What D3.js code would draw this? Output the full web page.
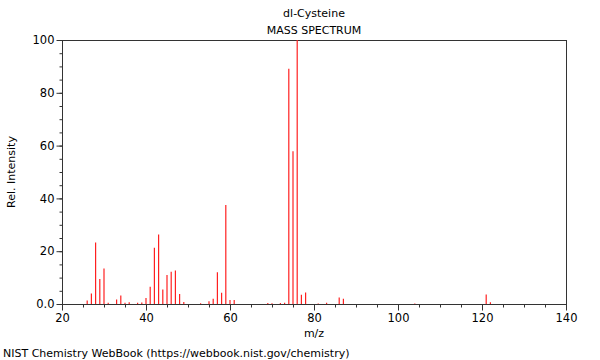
<!DOCTYPE html>
<html>
<head>
<meta charset="utf-8">
<style type="text/css">
body { margin: 0; background: #fff; }
text { font-family: 'DejaVu Sans'; }
</style>
</head>
<body>
<script src="https://d3js.org/d3.v7.min.js"></script>
<script type="text/javascript">

// peaks
const mz = [26, 27, 28, 29, 30, 31, 33, 34, 35, 36, 38, 39, 40, 41, 42, 43, 44, 45, 46, 47, 48, 49,
            53, 55, 56, 57, 58, 59, 60, 61, 69, 70, 72, 73, 74, 75, 76, 77, 78, 81, 83, 86, 87,
            104, 121, 122];
const intensity = [1.3, 4, 23.3, 9.5, 13.4, 0.5, 1.7, 3.2, 0.5, 0.7, 0.5, 0.6, 2.3, 6.5, 21.3, 26.3, 5.5, 11, 12.2, 12.7, 3.8, 0.8,
                   0.3, 1, 2, 12, 4.3, 37.5, 1.5, 1.5, 0.4, 0.3, 0.4, 0.5, 89.1, 57.9, 100, 3.5, 4.4, 0.2, 0.5, 2.5, 2,
                   0.2, 3.6, 0.7];
const xTicks = [20, 40, 60, 80, 100, 120, 140];
const yTicks = [0, 20, 40, 60, 80, 100];

const peaks = mz.map((m, i) => ({ mz: m, v: intensity[i] }));

var margin = {top: 40, right: 34, bottom: 56, left: 62},
    width = 600 - margin.left - margin.right,
    height = 360 - margin.top - margin.bottom;

var svg = d3.select("body").append("svg")
    .attr("width", 600)
    .attr("height", 360);

var g = svg.append("g")
    .attr("transform", "translate(" + margin.left + "," + margin.top + ")");

var x = d3.scaleLinear().domain([20, 140]).range([0, width]);
var y = d3.scaleLinear().domain([0, 100]).range([height, 0]);

// frame
g.append("rect")
    .attr("x", 0.5).attr("y", 0.5)
    .attr("width", width).attr("height", height)
    .attr("fill", "none")
    .attr("stroke", "#333");

// minor ticks
g.append("g")
    .attr("transform", "translate(0," + (height + 0.5) + ")")
    .call(d3.axisBottom(x).tickValues(d3.range(20, 141, 5)).tickSize(3).tickFormat(""))
    .call(s => s.select(".domain").remove());
g.append("g")
    .attr("transform", "translate(0.5,0)")
    .call(d3.axisLeft(y).tickValues(d3.range(0, 101, 5)).tickSize(3).tickFormat(""))
    .call(s => s.select(".domain").remove());

// major ticks
var xAxis = g.append("g")
    .attr("transform", "translate(0," + (height + 0.5) + ")")
    .call(d3.axisBottom(x).tickValues(xTicks).tickSize(6).tickPadding(3));
xAxis.select(".domain").remove();

var yAxis = g.append("g")
    .attr("transform", "translate(0.5,0)")
    .call(d3.axisLeft(y).tickValues(yTicks).tickSize(6).tickPadding(2)
      .tickFormat(d => d === 0 ? "0.0" : d));
yAxis.select(".domain").remove();

g.selectAll(".tick line").attr("stroke", "#333");
g.selectAll(".tick text")
    .attr("font-family", "DejaVu Sans")
    .attr("font-size", "11.5px")
    .attr("fill", "#000");

// peaks
g.selectAll(".peak")
    .data(peaks)
  .enter().append("line")
    .attr("class", "peak")
    .attr("x1", d => x(d.mz))
    .attr("x2", d => x(d.mz))
    .attr("y1", height)
    .attr("y2", d => y(d.v))
    .attr("stroke", "#ff2020")
    .attr("stroke-width", 1.2);

// titles
svg.append("text")
    .attr("x", 314).attr("y", 17)
    .attr("text-anchor", "middle")
    .attr("font-size", "11px")
    .text("dl-Cysteine");

svg.append("text")
    .attr("x", 314).attr("y", 34)
    .attr("text-anchor", "middle")
    .attr("font-size", "11px")
    .text("MASS SPECTRUM");

svg.append("text")
    .attr("x", 314).attr("y", 337)
    .attr("text-anchor", "middle")
    .attr("font-size", "11px")
    .text("m/z");

svg.append("text")
    .attr("transform", "translate(15," + (margin.top + height / 2) + ") rotate(-90)")
    .attr("text-anchor", "middle")
    .attr("font-size", "11px")
    .text("Rel. Intensity");

svg.append("text")
    .attr("x", 3).attr("y", 357)
    .attr("font-size", "11px")
    .text("NIST Chemistry WebBook (https://webbook.nist.gov/chemistry)");

</script>
</body>
</html>
